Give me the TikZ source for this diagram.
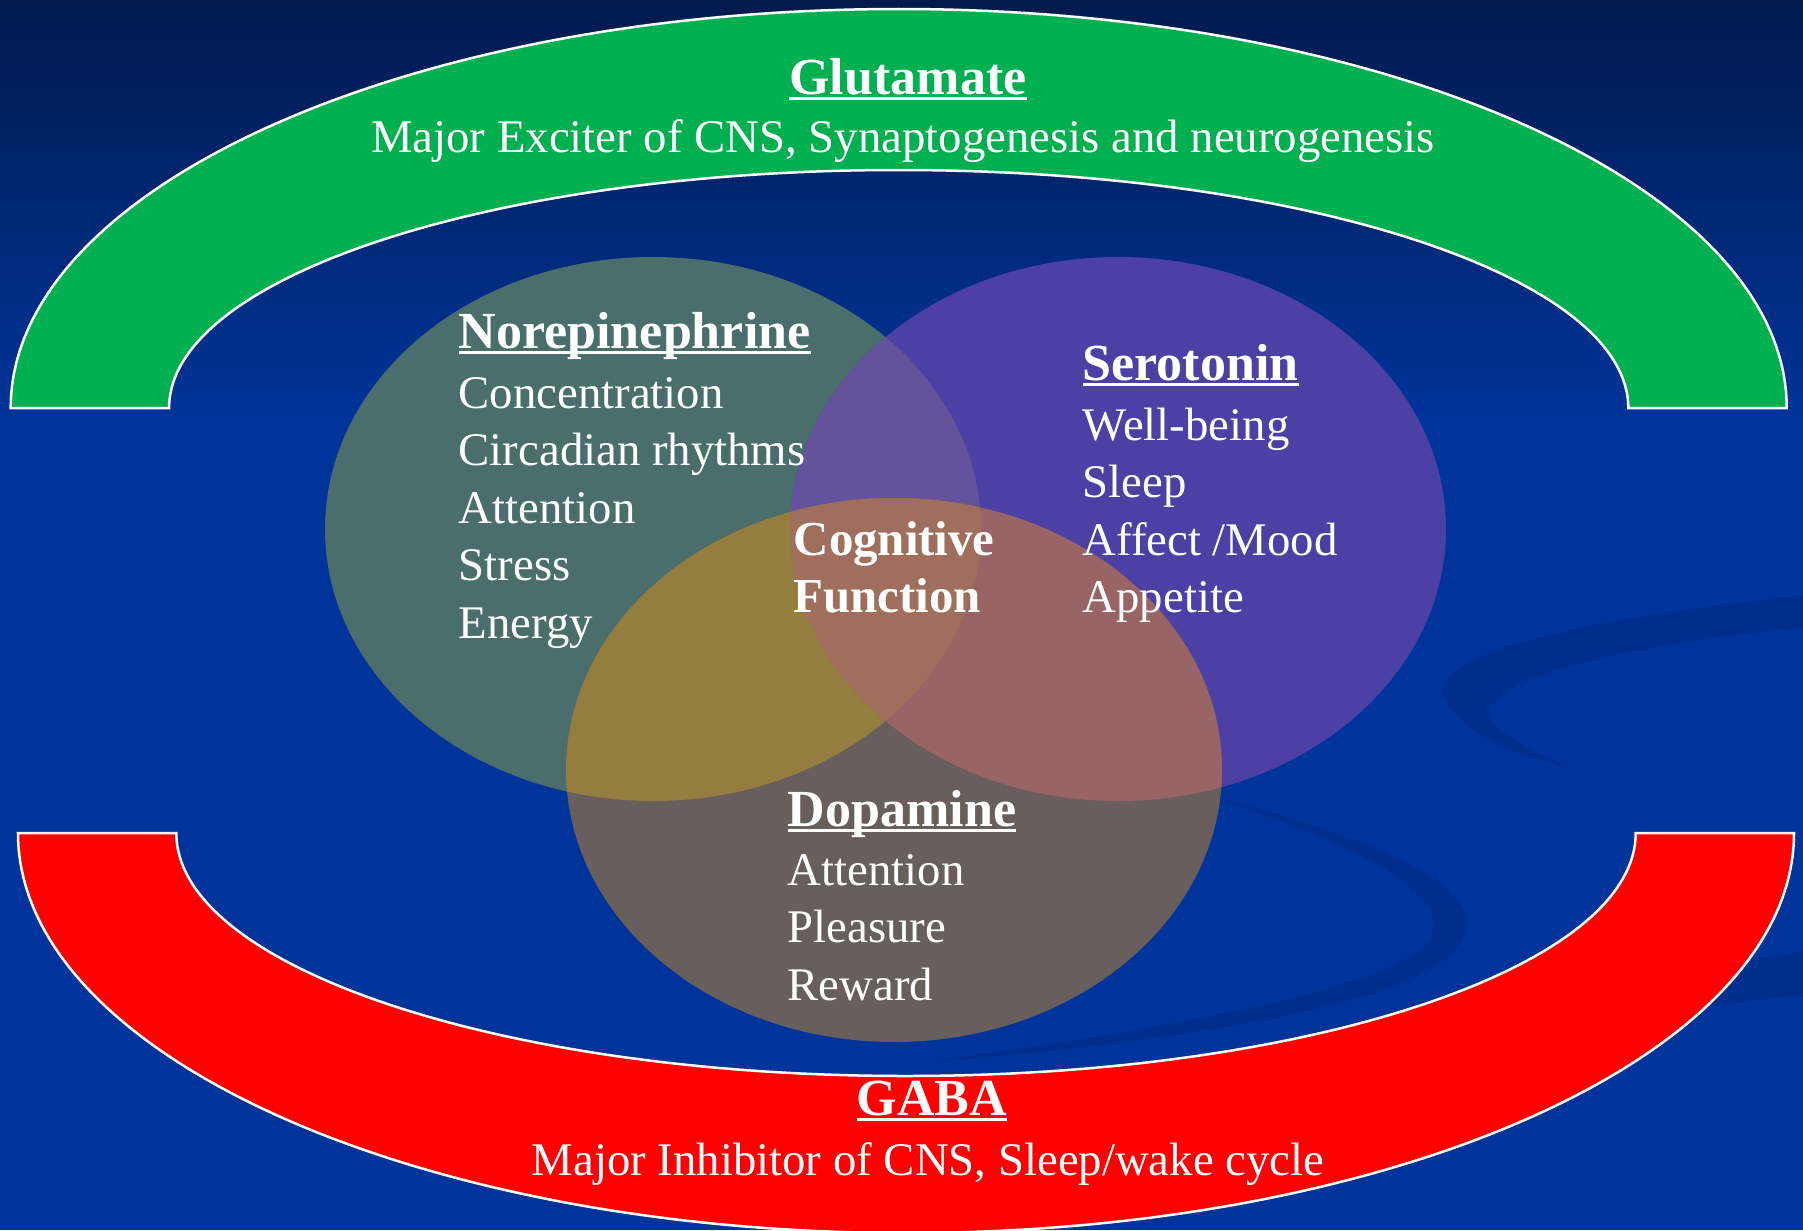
\documentclass[tikz,border=0pt]{standalone}
\usepackage{fontspec}
\setmainfont{Liberation Serif}

\definecolor{bgtop}{HTML}{001A4D}
\definecolor{bgblue}{HTML}{00349A}
\definecolor{swirl}{HTML}{002A86}
\definecolor{glugreen}{HTML}{00B050}
\definecolor{gabared}{HTML}{FF0000}
\definecolor{necol}{HTML}{4A6E6C}
\definecolor{secol}{HTML}{4D40A5}
\definecolor{dacol}{HTML}{685E5C}
\definecolor{nsecol}{HTML}{64529C}
\definecolor{ndacol}{HTML}{937E40}
\definecolor{sdacol}{HTML}{986466}
\definecolor{allcol}{HTML}{A06E5C}

% underlined bold heading
\newsavebox{\headbox}
\newcommand{\headline}[1]{%
  \sbox{\headbox}{\fontsize{14.8}{16}\selectfont\bfseries #1}%
  \rlap{\rule[-1.8pt]{\wd\headbox}{0.9pt}}\usebox{\headbox}}

\tikzset{
  listtext/.style={text=white, inner sep=0pt, font=\fontsize{13.3}{16}\selectfont},
  headtext/.style={listtext, anchor=base west},
  itemtext/.style={listtext, anchor=base west},
  band/.style={draw=white, line width=0.025cm},
}

\begin{document}
\begin{tikzpicture}[x=0.01cm, y=0.01cm, yscale=-1]
    % slide area
    \useasboundingbox (0,0) rectangle (1803,1230);
    % background
    \fill[bgblue] (0,0) rectangle (1803,1230);
    \shade[top color=bgtop, bottom color=bgblue] (0,0) rectangle (1803,420);
    % faint swirls
    \fill[swirl, opacity=0.45] (1803,596) .. controls (1560,620) and (1420,660) .. (1445,700)
        .. controls (1470,740) and (1520,755) .. (1570,768)
        .. controls (1510,740) and (1480,722) .. (1492,705)
        .. controls (1515,670) and (1650,642) .. (1803,628) -- cycle;
    \fill[swirl, opacity=0.45] (1190,790) .. controls (1400,845) and (1510,895) .. (1450,955)
        .. controls (1390,1010) and (1150,1045) .. (930,1062)
        .. controls (1150,1030) and (1360,995) .. (1420,950)
        .. controls (1470,905) and (1380,850) .. (1190,790) -- cycle;
    \fill[swirl, opacity=0.45] (1803,950) .. controls (1650,985) and (1500,1010) .. (1380,1040)
        -- (1380,1070) .. controls (1500,1040) and (1650,1010) .. (1803,995) -- cycle;

    % glutamate band
    \fill[glugreen, band] (10.7,408) arc[start angle=180, end angle=360, x radius=888, y radius=399]
        -- (1628.3,408) arc[start angle=360, end angle=180, x radius=729.6, y radius=238] -- cycle;
    % gaba band
    \fill[gabared, band] (18,833) arc[start angle=180, end angle=0, x radius=888, y radius=400]
        -- (1635.7,833) arc[start angle=0, end angle=180, x radius=729.7, y radius=243] -- cycle;

    % three ellipses and their overlaps
    \fill[necol] (653,529) ellipse [x radius=328, y radius=272];
    \fill[secol] (1118,529) ellipse [x radius=328, y radius=272];
    \begin{scope}
        \clip (653,529) ellipse [x radius=328, y radius=272];
        \fill[nsecol] (1118,529) ellipse [x radius=328, y radius=272];
    \end{scope}
    \fill[dacol] (894,770) ellipse [x radius=328, y radius=272];
    \begin{scope}
        \clip (894,770) ellipse [x radius=328, y radius=272];
        \fill[ndacol] (653,529) ellipse [x radius=328, y radius=272];
        \fill[sdacol] (1118,529) ellipse [x radius=328, y radius=272];
        \clip (653,529) ellipse [x radius=328, y radius=272];
        \fill[allcol] (1118,529) ellipse [x radius=328, y radius=272];
    \end{scope}

    % glutamate text
    \node[listtext, anchor=base] (glu) at (908,94) {\headline{Glutamate}};
    \node[listtext, anchor=base] (gludesc) at (903,152) {Major Exciter of CNS, Synaptogenesis and neurogenesis};
    % norepinephrine
    \node[headtext] (ne) at (458,348) {\headline{Norepinephrine}};
    \foreach \txt [count=\i] in {Concentration, Circadian rhythms, Attention, Stress, Energy}
        \node[itemtext] (ne\i) at (458,{350.5+57.5*\i}) {\txt};
    % serotonin
    \node[headtext] (se) at (1082,380) {\headline{Serotonin}};
    \foreach \txt [count=\i] in {Well-being, Sleep, Affect /Mood, Appetite}
        \node[itemtext] (se\i) at (1082,{382.5+57.5*\i}) {\txt};
    % middle
    \node[headtext, font=\fontsize{13.9}{16}\selectfont\bfseries] (cog) at (793,555) {Cognitive};
    \node[headtext, font=\fontsize{13.9}{16}\selectfont\bfseries] (func) at (793,612) {Function};
    % dopamine
    \node[headtext] (da) at (787,826) {\headline{Dopamine}};
    \foreach \txt [count=\i] in {Attention, Pleasure, Reward}
        \node[itemtext] (da\i) at (787,{827.5+57.5*\i}) {\txt};
    % gaba text
    \node[listtext, anchor=base] (gaba) at (932,1115) {\headline{GABA}};
    \node[listtext, anchor=base] (gabadesc) at (928,1175) {Major Inhibitor of CNS, Sleep/wake cycle};
\end{tikzpicture}
\end{document}
